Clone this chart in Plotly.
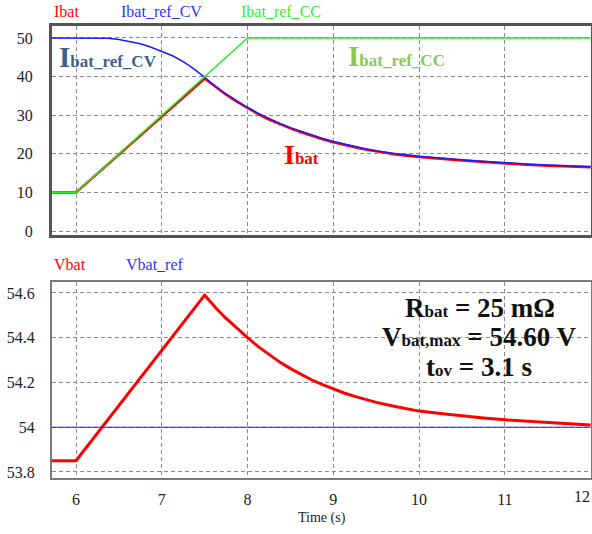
import plotly.graph_objects as go

# ---------------- data ----------------
t_ibat = [5.72, 6.0, 7.5, 7.625, 7.75, 7.875, 8.0, 8.125, 8.25, 8.375, 8.5, 8.625, 8.75, 8.875, 9.0,
          9.125, 9.25, 9.375, 9.5, 9.75, 10.0, 10.25, 10.5, 10.75, 11.0, 11.25, 11.5, 11.75, 12.0]
ibat = [10, 10, 39.5, 37.3, 35.3, 33.5, 31.8, 30.3, 28.9, 27.7, 26.6, 25.6, 24.6, 23.8, 23.0,
        22.3, 21.7, 21.1, 20.6, 19.8, 19.2, 18.7, 18.3, 17.9, 17.5, 17.2, 16.95, 16.75, 16.55]

t_cv = [5.72, 6.0, 6.25, 6.375, 6.5, 6.625, 6.75, 6.875, 7.0, 7.125, 7.25, 7.375, 7.5, 7.625, 7.75, 7.875,
        8.0, 8.125, 8.25, 8.375, 8.5, 8.625, 8.75, 8.875, 9.0, 9.125, 9.25, 9.375, 9.5, 9.75,
        10.0, 10.25, 10.5, 10.75, 11.0, 11.25, 11.5, 11.75, 12.0]
ibat_ref_cv = [50, 50, 50, 49.9, 49.6, 49.1, 48.5, 47.6, 46.5, 45.4, 43.9, 42.0, 39.8, 37.5, 35.5, 33.7,
               32.0, 30.5, 29.1, 27.9, 26.8, 25.8, 24.8, 24.0, 23.2, 22.5, 21.9, 21.3, 20.8, 20.0,
               19.4, 18.9, 18.5, 18.1, 17.7, 17.4, 17.15, 16.95, 16.75]

t_cc = [5.72, 6.0, 8.0, 12.0]
ibat_ref_cc = [10, 10, 50, 50]

t_v = [5.72, 6.0, 7.5, 7.625, 7.75, 7.875, 8.0, 8.125, 8.25, 8.375, 8.5, 8.625, 8.75, 8.875, 9.0,
       9.125, 9.25, 9.375, 9.5, 9.75, 10.0, 10.25, 10.5, 10.75, 11.0, 11.25, 11.5, 11.75, 12.0]
vbat = [53.85, 53.85, 54.59, 54.535, 54.486, 54.441, 54.400, 54.360, 54.324, 54.291, 54.262, 54.235,
        54.211, 54.190, 54.170, 54.153, 54.138, 54.124, 54.111, 54.090, 54.072, 54.061, 54.050,
        54.041, 54.033, 54.026, 54.020, 54.015, 54.010]
t_vref = [5.72, 12.0]
vbat_ref = [54, 54]

x_ticks = [6, 7, 8, 9, 10, 11, 12]
x_ticktext = ["6", "7", "8", "9", "10", "11", "12"]
i_ticks = [0, 10, 20, 30, 40, 50]
v_ticks = [53.8, 54.0, 54.2, 54.4, 54.6]
v_ticktext = ["53.8", "54", "54.2", "54.4", "54.6"]

# ---------------- figure ----------------
W, H = 592, 534
SERIF = "Liberation Serif, Times New Roman, serif"
RED, BLUE, GREEN = "#ff0000", "#1a1aff", "#22ee22"

fig = go.Figure()
fig.add_trace(go.Scatter(x=t_ibat, y=ibat, mode="lines", line=dict(color=RED, width=2.5),
                         xaxis="x", yaxis="y", name="Ibat"))
fig.add_trace(go.Scatter(x=t_cv, y=ibat_ref_cv, mode="lines", line=dict(color=BLUE, width=1.5),
                         xaxis="x", yaxis="y", name="Ibat_ref_CV"))
fig.add_trace(go.Scatter(x=t_cc, y=ibat_ref_cc, mode="lines", line=dict(color=GREEN, width=1.5),
                         xaxis="x", yaxis="y", name="Ibat_ref_CC"))
fig.add_trace(go.Scatter(x=t_v, y=vbat, mode="lines", line=dict(color=RED, width=3),
                         xaxis="x2", yaxis="y2", name="Vbat"))
fig.add_trace(go.Scatter(x=t_vref, y=vbat_ref, mode="lines", line=dict(color=BLUE, width=1),
                         xaxis="x2", yaxis="y2", name="Vbat_ref"))


def px_x(p):
    return p / W


def px_y(p):
    return 1 - p / H


xdom = [px_x(52), px_x(591)]
xrange_ = [5.72, 12.004]
grid = dict(showgrid=True, gridcolor="#8a8a8a", gridwidth=1, griddash="4px,3px", zeroline=False,
            automargin=False)
tickfont = dict(family=SERIF, size=16, color="#222")

# the last x label sits flush with the right edge (as in the reference), drawn separately
x_axis_text = x_ticktext[:-1] + [""]

fig.update_layout(
    width=W, height=H, margin=dict(l=0, r=0, t=0, b=0, autoexpand=False),
    paper_bgcolor="white", plot_bgcolor="white", showlegend=False,
    xaxis=dict(domain=xdom, range=xrange_, tickvals=x_ticks, showticklabels=False,
               showline=True, linecolor="#555", linewidth=3, mirror=True, anchor="y", **grid),
    yaxis=dict(domain=[px_y(235), px_y(26)], range=[-1, 53.1], tickvals=i_ticks,
               showline=True, linecolor="#555", linewidth=3, mirror=True, anchor="x",
               tickfont=tickfont, ticks="outside", ticklen=13, tickcolor="rgba(0,0,0,0)", **grid),
    xaxis2=dict(domain=xdom, range=xrange_, tickvals=x_ticks, ticktext=x_axis_text, tickfont=tickfont,
                ticks="outside", ticklen=6, tickcolor="rgba(0,0,0,0)",
                showline=True, linecolor="#7a7a7a", linewidth=2, mirror=True, anchor="y2", **grid),
    yaxis2=dict(domain=[px_y(478), px_y(282)], range=[53.773, 54.649], tickvals=v_ticks,
                ticktext=v_ticktext, tickfont=tickfont, ticks="outside", ticklen=12,
                tickcolor="rgba(0,0,0,0)",
                showline=True, linecolor="#7a7a7a", linewidth=2, mirror=True, anchor="x2", **grid),
)

ann = []


def label(text, x, y, color, size=16, xanchor="left", bold=False):
    ann.append(dict(text=("<b>%s</b>" % text) if bold else text, x=px_x(x), y=px_y(y),
                    xref="paper", yref="paper", xanchor=xanchor, yanchor="middle",
                    showarrow=False, font=dict(family=SERIF, size=size, color=color)))


def small(s, size=17):
    return '<span style="font-size:%dpx">%s</span>' % (size, s)


# last x tick label, flush right
label(x_ticktext[-1], 592, 496, "#222", size=16, xanchor="right")

# legend-like labels
label("Ibat", 52, 11, RED)
label("Ibat_ref_CV", 119, 11, "#3333ff")
label("Ibat_ref_CC", 239, 11, "#33ee33")
label("Vbat", 52, 264, RED)
label("Vbat_ref", 124, 264, "#3333ff")
label("Time (s)", 322, 518, "#222", size=14, xanchor="center")

# in-plot annotations
label("I" + small("bat_ref_CV"), 57, 57, "#3f5f8f", size=29, bold=True)
label("I" + small("bat_ref_CC"), 346, 56, "#8cc850", size=29, bold=True)
label("I" + small("bat"), 282, 155, RED, size=28, bold=True)

label("R" + small("bat") + " = 25 mΩ", 480, 308, "#111", size=27, xanchor="center", bold=True)
label("V" + small("bat,max") + " = 54.60 V", 479, 337, "#111", size=27, xanchor="center", bold=True)
label("t" + small("ov") + " = 3.1 s", 479, 367, "#111", size=27, xanchor="center", bold=True)

fig.update_layout(annotations=ann)
fig.write_html("out.html")
